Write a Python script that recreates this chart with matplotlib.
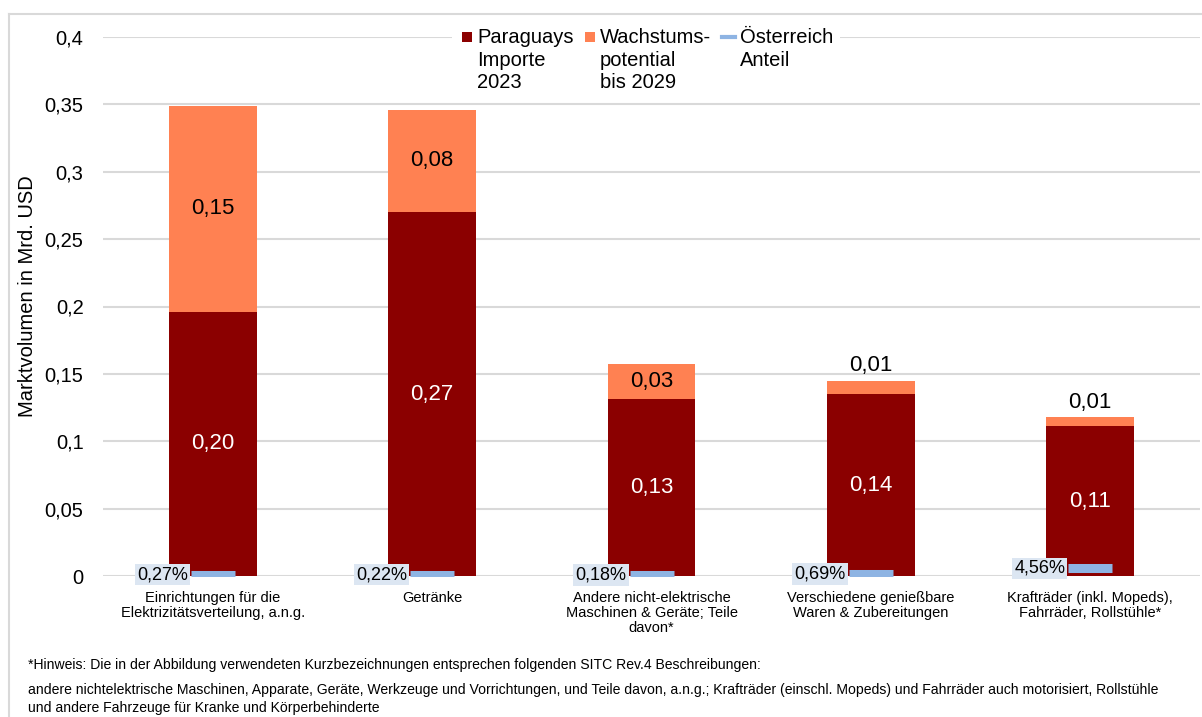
import numpy as np
import matplotlib.pyplot as plt
from matplotlib.lines import Line2D
from matplotlib.patches import Rectangle

plt.rcParams['font.family'] = ['Liberation Sans', 'DejaVu Sans']

# Daten
kategorien = ["Einrichtungen für die\nElektrizitätsverteilung, a.n.g.",
              "Getränke",
              "Andere nicht-elektrische\nMaschinen & Geräte; Teile\ndavon*",
              "Verschiedene genießbare\nWaren & Zubereitungen",
              "Krafträder (inkl. Mopeds),\nFahrräder, Rollstühle*"]
importe_2023 = [0.196, 0.270, 0.131, 0.135, 0.111]
wachstum_2029 = [0.153, 0.076, 0.026, 0.010, 0.007]
import_labels = ["0,20", "0,27", "0,13", "0,14", "0,11"]
wachstum_labels = ["0,15", "0,08", "0,03", "0,01", "0,01"]
oesterreich_anteil = [0.0027, 0.0022, 0.0018, 0.0069, 0.0456]
anteil_labels = ["0,27%", "0,22%", "0,18%", "0,69%", "4,56%"]
legenden_texte = ["Paraguays\nImporte\n2023", "Wachstums-\npotential\nbis 2029", "Österreich\nAnteil"]

farbe_import = '#8b0000'
farbe_wachstum = '#ff8152'
farbe_anteil = '#8eb4e3'

W, H = 1202, 717
fig = plt.figure(figsize=(W / 100, H / 100), dpi=100)
ax = fig.add_axes([103/W, 1-576/H, 1097/W, 539/H])

x = np.arange(len(kategorien))
breite = 0.4

ax.bar(x, importe_2023, breite, color=farbe_import, zorder=2)
ax.bar(x, wachstum_2029, breite, bottom=importe_2023, color=farbe_wachstum, zorder=2)

for i in range(len(x)):
    ax.text(x[i], importe_2023[i] / 2, import_labels[i], ha='center', va='center',
            color='white', fontsize=16, zorder=3)
    if wachstum_2029[i] > 0.02:
        ax.text(x[i], importe_2023[i] + wachstum_2029[i] / 2, wachstum_labels[i],
                ha='center', va='center', color='black', fontsize=16, zorder=3)
    else:
        ax.annotate(wachstum_labels[i], (x[i], importe_2023[i] + wachstum_2029[i]),
                    xytext=(0, 3), textcoords='offset points', ha='center', va='bottom',
                    fontsize=16, zorder=3)

ax.set_xlim(-0.5, len(x) - 0.5)
ax.set_ylim(0, 0.4)
ticks = np.arange(0, 0.41, 0.05)
ax.set_yticks(ticks)
ax.set_yticklabels([('%g' % round(t, 2)).replace('.', ',') for t in ticks], fontsize=14.5)
ax.set_xticks(x)
ax.set_xticklabels(kategorien, fontsize=10.5, linespacing=1.1)
ax.tick_params(axis='both', length=0)
ax.tick_params(axis='y', pad=14)
ax.tick_params(axis='x', pad=11)
ax.grid(axis='y', color='#d9d9d9', linewidth=1.5, zorder=0)
ax.set_axisbelow(True)
for s in ax.spines.values():
    s.set_visible(False)

# Österreich Anteil auf Sekundärachse
ax2 = ax.twinx()
ax2.set_ylim(-0.0062, 3.71)
ax2.axis('off')
ax2.plot(x, oesterreich_anteil, linestyle='none', marker='_', markersize=31,
         markeredgewidth=6.5, color=farbe_anteil, zorder=4)
for i in range(len(x)):
    ax2.annotate(anteil_labels[i], (x[i], oesterreich_anteil[i]), xytext=(-18, 0),
                 textcoords='offset points', ha='right', va='center', fontsize=13,
                 bbox=dict(boxstyle='square,pad=0.12', facecolor='#dce6f2', edgecolor='none'))

fig.text(28/W, 1-296/H, "Marktvolumen in Mrd. USD", rotation=90, ha='center',
         va='center', fontsize=14.5)

# Legende (von Hand, Symbol auf Höhe der ersten Zeile)
fig.add_artist(Rectangle((452/W, 1-50/H), 388/W, 28/H, transform=fig.transFigure,
                         facecolor='white', edgecolor='none', zorder=5))
leg_x = [462, 585, 722]
text_x = [477, 600, 740]
fig.add_artist(Rectangle((leg_x[0]/W, 1-42/H), 10/W, 10/H, transform=fig.transFigure,
                         facecolor=farbe_import, edgecolor='none', zorder=6))
fig.add_artist(Rectangle((leg_x[1]/W, 1-42/H), 10/W, 10/H, transform=fig.transFigure,
                         facecolor=farbe_wachstum, edgecolor='none', zorder=6))
fig.add_artist(Line2D([leg_x[2]/W, (leg_x[2]+13)/W], [1-37/H, 1-37/H], color=farbe_anteil,
                      linewidth=3, zorder=6))
for xi, txt in zip(text_x, legenden_texte):
    fig.text(xi/W, 1-28/H, txt, ha='left', va='top', fontsize=14.5,
             linespacing=1.25, zorder=7)

# Rahmen
fig.add_artist(Line2D([9/W, 9/W], [0, 1-14/H], color='#d9d9d9', linewidth=1.5))
fig.add_artist(Line2D([9/W, 1], [1-14/H, 1-14/H], color='#d9d9d9', linewidth=1.5))

fussnote_1 = "*Hinweis: Die in der Abbildung verwendeten Kurzbezeichnungen entsprechen folgenden SITC Rev.4 Beschreibungen:"
fussnote_2 = ("andere nichtelektrische Maschinen, Apparate, Geräte, Werkzeuge und Vorrichtungen, und Teile davon, a.n.g.; "
              "Krafträder (einschl. Mopeds) und Fahrräder auch motorisiert, Rollstühle\n"
              "und andere Fahrzeuge für Kranke und Körperbehinderte")
fig.text(28/W, 1-665/H, fussnote_1, ha='left', va='center', fontsize=10.05)
fig.text(28/W, 1-683/H, fussnote_2, ha='left', va='top', fontsize=10.05, linespacing=1.4)

fig.savefig('out.png', dpi=100)
